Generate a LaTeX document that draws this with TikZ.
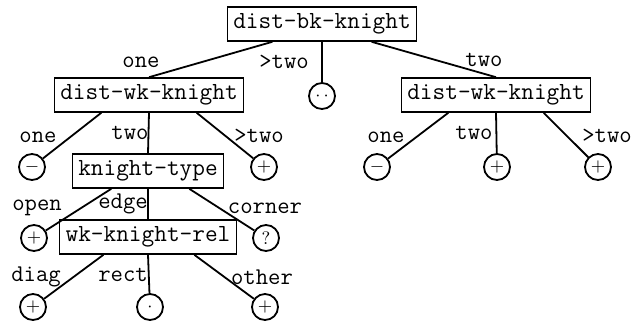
\documentclass[tikz,border=0pt]{standalone}
\usetikzlibrary{positioning,calc}
\begin{document}
\begin{tikzpicture}[x=0.5pt, y=-0.5pt, line width=0.9pt,
  test/.style={draw, rectangle, line width=0.8pt, font=\ttfamily\fontsize{12.3}{14}\selectfont, inner xsep=3pt, minimum height=17pt},
  leaf/.style={draw, circle, minimum size=13pt, inner sep=0pt, font=\small},
  lab/.style={font=\ttfamily\fontsize{12}{14}\selectfont, inner sep=0pt}]
\useasboundingbox (0,0) rectangle (636,323);
\node[test] (bk) at (322,24) {dist-bk-knight};
\node[test] (wk1) at (149,95) {dist-wk-knight};
\node[test] (wk2) at (496,95) {dist-wk-knight};
\node[test] (kt) at (148,171) {knight-type};
\node[test] (rel) at (148,237) {wk-knight-rel};

% leaves
\node[leaf] (l1) at (322,96) {$\cdot\,\cdot$};
\node[leaf] (l2) at (32,167) {$-$};
\node[leaf] (l3) at (264,167) {$+$};
\node[leaf] (l4) at (377,167) {$-$};
\node[leaf] (l5) at (497,167) {$+$};
\node[leaf] (l6) at (598,167) {$+$};
\node[leaf] (l7) at (34,238) {$+$};
\node[leaf] (l8) at (266,238) {?};
\node[leaf] (l9) at (33,307) {$+$};
\node[leaf] (l10) at (150,307) {$\cdot$};
\node[leaf] (l11) at (265,307) {$+$};

% branch labels
\node[lab] (a1) at (141,62) {one};
\node[lab] (a2) at (284,62) {>two};
\node[lab] (a3) at (484,60) {two};
\node[lab] (b1) at (38,137) {one};
\node[lab] (b2) at (130,133) {two};
\node[lab] (b3) at (259,136) {>two};
\node[lab] (c1) at (386,137) {one};
\node[lab] (c2) at (474,133) {two};
\node[lab] (c3) at (607,136) {>two};
\node[lab] (d1) at (37,208) {open};
\node[lab] (d2) at (123,204) {edge};
\node[lab] (d3) at (265,208) {corner};
\node[lab] (e1) at (36,277) {diag};
\node[lab] (e2) at (123,275) {rect};
\node[lab] (e3) at (262,277) {other};

\draw[] ($(bk.south west)!0.24!(bk.south east)$) -- (wk1.north);
\draw[] (bk.south) -- (l1);
\draw[] ($(bk.south west)!0.76!(bk.south east)$) -- (wk2.north);
\draw[] ($(wk1.south west)!0.25!(wk1.south east)$) -- (l2);
\draw[] (wk1.south) -- (kt.north);
\draw[] ($(wk1.south west)!0.75!(wk1.south east)$) -- (l3);
\draw[] ($(wk2.south west)!0.25!(wk2.south east)$) -- (l4);
\draw[] (wk2.south) -- (l5);
\draw[] ($(wk2.south west)!0.75!(wk2.south east)$) -- (l6);
\draw[] ($(kt.south west)!0.26!(kt.south east)$) -- (l7);
\draw[] (kt.south) -- (rel.north);
\draw[] ($(kt.south west)!0.77!(kt.south east)$) -- (l8);
\draw[] ($(rel.south west)!0.25!(rel.south east)$) -- (l9);
\draw[] (rel.south) -- (l10);
\draw[] ($(rel.south west)!0.76!(rel.south east)$) -- (l11);
\end{tikzpicture}
\end{document}
